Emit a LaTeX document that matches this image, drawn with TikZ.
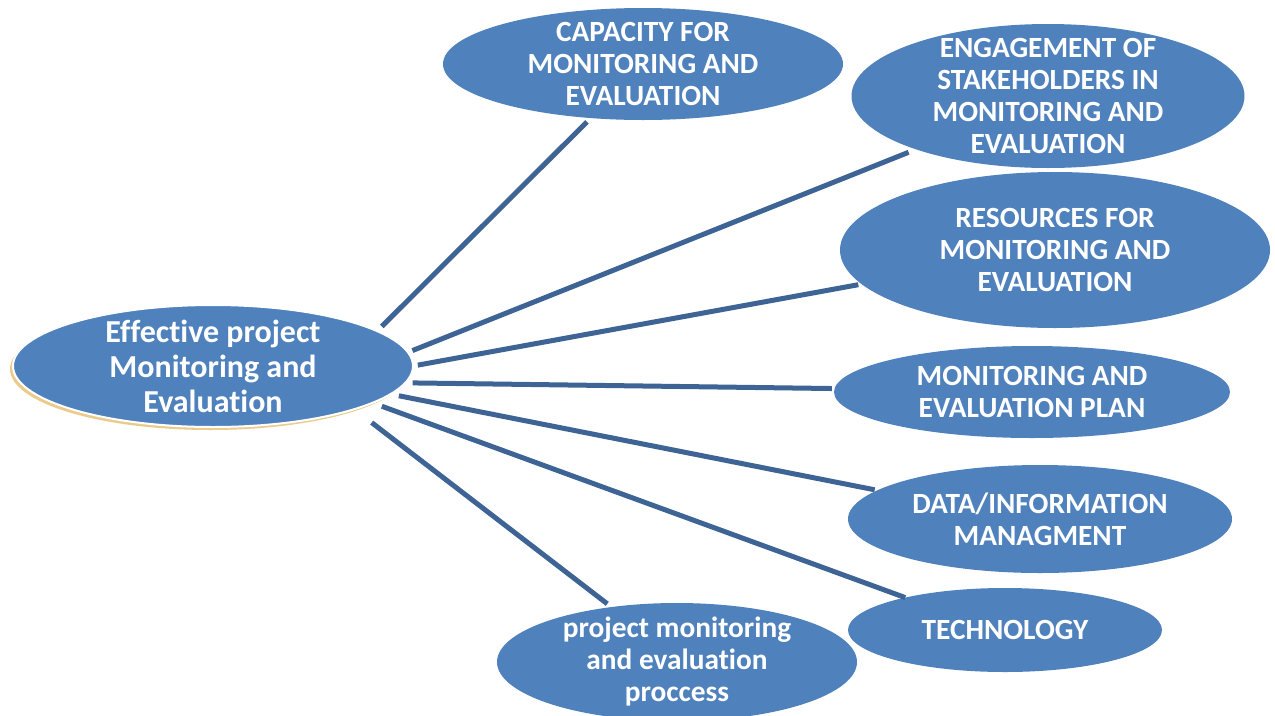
\documentclass[tikz,border=0pt]{standalone}
\usepackage{fontspec}
\setmainfont{Carlito}[Ligatures=NoCommon]
\usetikzlibrary{shapes.geometric}
\definecolor{fillblue}{HTML}{4F81BD}
\definecolor{lineblue}{HTML}{3E6496}
\definecolor{goldshadow}{HTML}{EBCB8B}
\begin{document}
\begin{tikzpicture}[x=0.75pt,y=-0.75pt,
  bub/.style={ellipse,fill=fillblue,inner sep=0pt,outer sep=0pt},
  lbl/.style={text=white,font=\fontsize{22}{24}\selectfont\bfseries,align=center,inner sep=0pt},
  conn/.style={draw=lineblue,line width=3.75pt}]
\useasboundingbox (0,0) rectangle (1275,715);
% shadow of main ellipse
\node[ellipse,fill=goldshadow,minimum width=300pt,minimum height=91.5pt,inner sep=0pt] (mainshadow) at (210,369) {};
\node[bub,draw=white,line width=1.5pt,minimum width=300pt,minimum height=91.5pt] (main) at (213,366) {};
\node[bub,minimum width=300pt,minimum height=84pt] (cap) at (643,64) {};
\node[bub,minimum width=294.75pt,minimum height=108pt] (eng) at (1048,96) {};
\node[bub,minimum width=322.5pt,minimum height=117pt] (res) at (1055,250) {};
\node[bub,minimum width=297pt,minimum height=69pt] (plan) at (1032,392) {};
\node[bub,minimum width=288pt,minimum height=81pt] (data) at (1040,519) {};
\node[bub,minimum width=235.5pt,minimum height=63pt] (tech) at (1005,630) {};
\node[bub,minimum width=270pt,minimum height=88.5pt] (proc) at (677,662) {};
% connectors
\draw[conn,shorten <=5pt,shorten >=4pt] (main.12.2) -- (cap.226);
\draw[conn,shorten <=3.6pt,shorten >=6pt] (main.4.5) -- (eng.202.5);
\draw[conn,shorten <=3.7pt,shorten >=2.5pt] (main.0.1) -- (res.190.6);
\draw[conn,shorten <=5.5pt,shorten >=2pt] (main.-5.3) -- (plan.179.4);
\draw[conn,shorten <=6.4pt,shorten >=2pt] (main.-9.9) -- (data.170.1);
\draw[conn,shorten <=7.5pt] (main.-13.4) -- (tech.162.1);
\draw[conn,shorten <=16.5pt,shorten >=4pt] (main.-17.2) -- (proc.140.7);
% labels
\node[lbl,font=\fontsize{24}{26.25}\selectfont\bfseries] (mainT) at (main.center) {Effective project\\Monitoring and\\Evaluation};
\node[lbl] (capT) at (cap.center) {CAPACITY FOR\\MONITORING AND\\EVALUATION};
\node[lbl] (engT) at (eng.center) {ENGAGEMENT OF\\STAKEHOLDERS IN\\MONITORING AND\\EVALUATION};
\node[lbl] (resT) at (res.center) {RESOURCES FOR\\MONITORING AND\\EVALUATION};
\node[lbl] (planT) at (plan.center) {MONITORING AND\\EVALUATION PLAN};
\node[lbl] (dataT) at (data.center) {DATA/INFORMATION\\MANAGMENT};
\node[lbl] (techT) at (tech.center) {TECHNOLOGY};
\node[lbl] (procT) at (proc.center) {project monitoring\\and evaluation\\proccess};
\end{tikzpicture}
\end{document}
